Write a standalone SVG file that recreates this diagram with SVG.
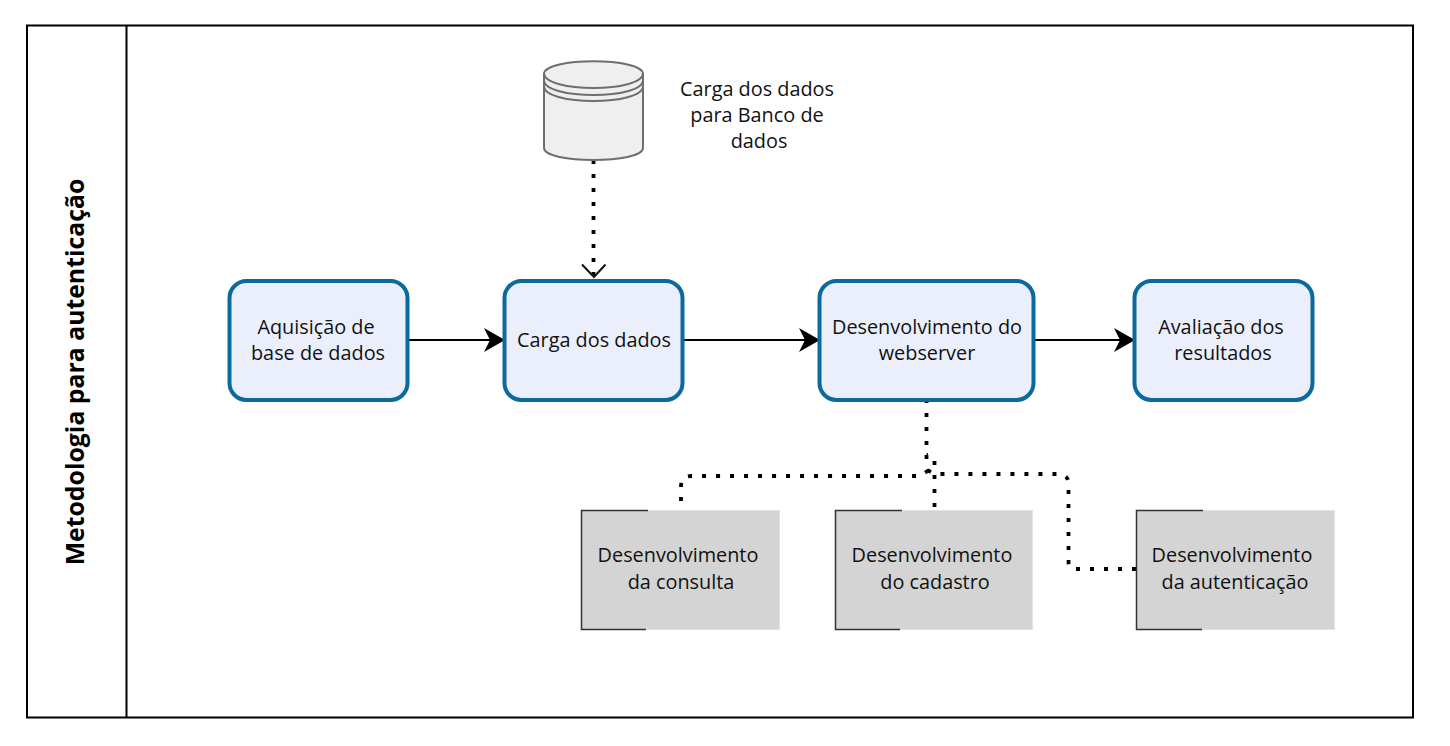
<svg xmlns="http://www.w3.org/2000/svg" width="1450" height="746" viewBox="0 0 1450 746">
<style>
text{font-family:"Open Sans","Noto Sans","Liberation Sans",sans-serif;font-size:19.85px;fill:#111;text-anchor:middle}
.b{fill:#ebeffc;stroke:#0a6a9c;stroke-width:4}
.g{fill:#d4d4d4;stroke:#e2e2e2;stroke-width:1}
.e{fill:none;stroke:#333;stroke-width:1.5}
.s{fill:none;stroke:#000;stroke-width:2}
.d{fill:none;stroke:#000;stroke-width:3.8;stroke-dasharray:4 10}
.db{fill:#efefef;stroke:#6e6e6e;stroke-width:2}
</style>
<defs>
<marker id="a" markerUnits="userSpaceOnUse" markerWidth="24" markerHeight="26" refX="21" refY="12" orient="auto"><path d="M0 0L21 12L0 24L6 12Z" fill="#000"/></marker>
</defs>
<g id="pool"><rect x="27" y="25.500" width="1386" height="692" fill="#fff" stroke="#000" stroke-width="2"/><line x1="126.500" y1="25" x2="126.500" y2="718" stroke="#000" stroke-width="2"/>
<text transform="translate(84 372) rotate(-90)" style="font-size:24.800px;font-weight:700;fill:#000">Metodologia para autenticação</text></g>
<g id="connectors">
<path class="s" d="M408 340H505" marker-end="url(#a)"/>
<path class="s" d="M683 340H820" marker-end="url(#a)"/>
<path class="s" d="M1033 340H1135" marker-end="url(#a)"/>
<path class="d" d="M593.500 160V276"/>
<path d="M582 264.500L594 277L605.500 264.500" fill="none" stroke="#111" stroke-width="2"/>
<path class="d" d="M926.500 399V459"/>
<path class="d" d="M934.500 507V460Q934.500 456 926.500 455"/>
<path class="d" d="M681 501V487Q681 476 691 476H916Q921 476 929 470"/>
<path class="d" d="M1136 569H1074Q1068.500 569 1068.500 562V484Q1068.500 474 1058 474H935L927 470"/>
</g>
<g id="db"><path class="db" d="M544 74C544 57 643 57 643 74V148C643 164 544 164 544 148Z"/><path d="M544 73C544 93 643 93 643 73M544 80C544 100 643 100 643 80M544 86C544 106 643 106 643 86" fill="none" stroke="#6e6e6e" stroke-width="2"/></g>
<g id="db-label"><text x="757" y="96">Carga dos dados</text><text x="757" y="122">para Banco de</text><text x="759" y="148">dados</text></g>
<g id="n1"><rect class="b" x="229.500" y="281" width="178" height="119" rx="17"/><text x="316" y="334">Aquisição de</text><text x="318" y="360">base de dados</text></g>
<g id="n2"><rect class="b" x="504.500" y="281" width="178" height="119" rx="17"/><text x="594" y="347">Carga dos dados</text></g>
<g id="n3"><rect class="b" x="819.500" y="281" width="214" height="119" rx="17"/><text x="927" y="334">Desenvolvimento do</text><text x="927" y="360">webserver</text></g>
<g id="n4"><rect class="b" x="1134.500" y="281" width="178" height="119" rx="17"/><text x="1221" y="334">Avaliação dos</text><text x="1223" y="360">resultados</text></g>
<g id="t1"><rect class="g" x="581.500" y="510.500" width="198" height="119"/><path class="e" d="M648 510.500H581.500V629.500H646"/><text x="678" y="562">Desenvolvimento</text><text x="681" y="589">da consulta</text></g>
<g id="t2"><rect class="g" x="835.500" y="510.500" width="197" height="119"/><path class="e" d="M902 510.500H835.500V629.500H900"/><text x="932" y="562">Desenvolvimento</text><text x="935" y="589">do cadastro</text></g>
<g id="t3"><rect class="g" x="1136.500" y="510.500" width="198" height="119"/><path class="e" d="M1203 510.500H1136.500V629.500H1202"/><text x="1232" y="562">Desenvolvimento</text><text x="1235" y="589">da autenticação</text></g>
</svg>
